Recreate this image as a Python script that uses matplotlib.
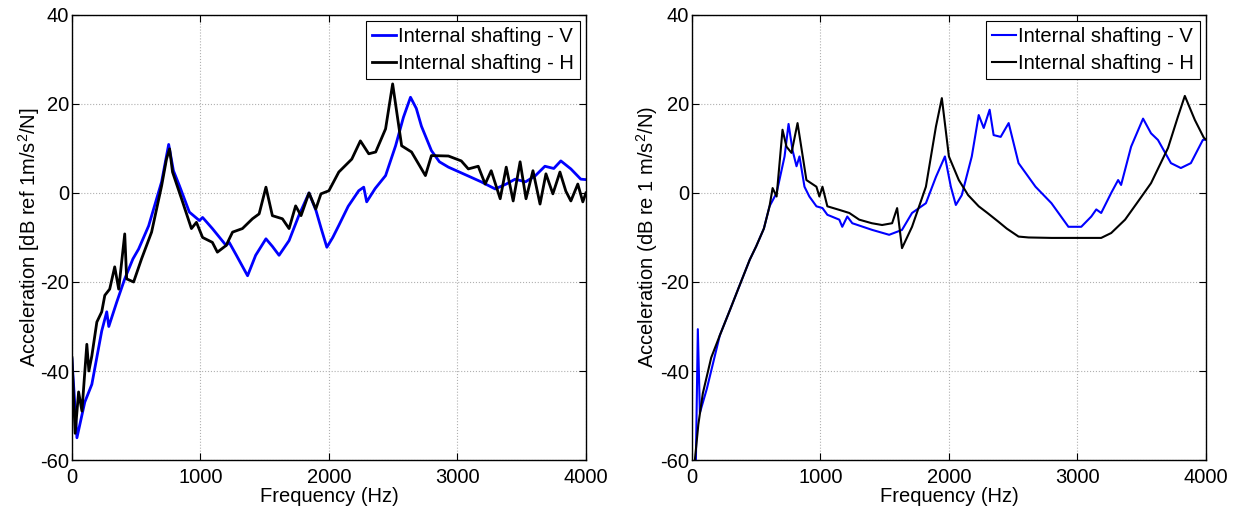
import matplotlib.pyplot as plt

plt.rcParams['font.family'] = ['Liberation Sans', 'DejaVu Sans']
plt.rcParams['mathtext.fontset'] = 'custom'
plt.rcParams['mathtext.rm'] = 'Liberation Sans'
plt.rcParams['axes.unicode_minus'] = False

# left panel: measured
left_v_f = [0, 39, 100, 155, 232, 271, 287, 349, 411, 475, 519, 597, 643, 698, 753,
            790, 837, 914, 992, 1017, 1093, 1200, 1224, 1280, 1367, 1430, 1510, 1560, 1612,
            1690, 1767, 1845, 1900, 1940, 1984, 2030, 2077, 2150, 2232, 2271, 2294, 2360,
            2441, 2519, 2580, 2635, 2680, 2720, 2798, 2860, 2930, 3085, 3185, 3294,
            3380, 3449, 3530, 3604, 3681, 3750, 3805, 3883, 3960, 4000]
left_v_db = [-37.3, -55, -47, -43, -31, -26.7, -30, -24.5, -19.3, -14.8, -12.6, -7.4, -2.9, 2.5, 10.9,
             5, 1.6, -4.3, -6.2, -5.5, -8, -11.8, -11.1, -14, -18.6, -14, -10.3, -12, -14,
             -10.7, -5, 0, -4, -8, -12.2, -10, -7.3, -3, 0.5, 1.3, -2, 1,
             3.9, 10.6, 17, 21.5, 19, 15, 9.5, 7, 5.8, 3.8, 2.5, 0.9,
             2, 3.1, 2.5, 3.8, 6, 5.5, 7.2, 5.4, 3.1, 3]

left_h_f = [0, 25, 52, 78, 116, 132, 155, 194, 232, 256, 294, 333, 364, 411, 426, 480, 542,
            620, 698, 736, 760, 783, 853, 930, 969, 1017, 1093, 1132, 1200, 1250, 1327, 1405,
            1457, 1510, 1560, 1638, 1690, 1741, 1783, 1845, 1898, 1938, 2000, 2077, 2178,
            2245, 2310, 2364, 2441, 2496, 2566, 2643, 2751, 2798, 2930, 3030, 3085, 3162,
            3216, 3263, 3333, 3380, 3434, 3488, 3534, 3588, 3643, 3689, 3743, 3798, 3844,
            3883, 3937, 3976, 4000]
left_h_db = [-37, -54, -44.7, -49, -34, -40, -36.6, -29, -26.7, -23, -21.6, -16.6, -21.6, -9.2, -19.3, -20, -14.8,
             -8.8, 1.6, 7.6, 9.9, 4.7, -1.3, -8, -6.6, -10, -11.1, -13.3, -11.8, -8.8, -8, -5.8,
             -4.7, 1.3, -5.1, -5.8, -8, -2.9, -5.1, 0, -3.6, -0.2, 0.5, 4.7, 7.6,
             11.7, 8.8, 9.2, 14.4, 24.5, 10.6, 9.2, 3.9, 8.4, 8.3, 7.2, 5.4, 6,
             2, 5, -1.3, 5.8, -1.8, 7, -1.3, 5, -2.5, 4.3, -0.2, 4.7, 0.4,
             -1.8, 2, -2, 0]

# right panel: model
right_v_f = [31, 46, 62, 116, 217, 300, 372, 450, 500, 560, 604, 659, 721, 752, 783, 814, 837, 876, 914,
             969, 1016, 1054, 1147, 1170, 1209, 1248, 1403, 1535, 1635, 1713, 1821, 1899,
             1969, 2015, 2054, 2100, 2178, 2232, 2271, 2317, 2348, 2403, 2465, 2542, 2674,
             2798, 2930, 3030, 3108, 3147, 3185, 3263, 3317, 3340, 3418, 3511, 3573, 3627,
             3728, 3805, 3883, 3976, 4000]
right_v_db = [-60, -30.6, -49.4, -44, -32, -26, -20.7, -15, -12, -8, -3, 0, 8.2, 15.5, 9.6, 6, 8.2, 1.4, -0.8,
              -3, -3.4, -4.9, -6, -7.6, -5.3, -6.8, -8.3, -9.4, -8.3, -4.5, -2.3, 3.6,
              8.2, 1.4, -2.7, -0.5, 8.2, 17.5, 14.6, 18.7, 13, 12.6, 15.7, 6.7, 1.4,
              -2.3, -7.6, -7.6, -5.3, -3.7, -4.5, 0, 2.9, 1.8, 10.4, 16.7, 13.4, 11.9,
              6.7, 5.6, 6.7, 11.9, 12]

right_h_f = [23, 50, 85, 150, 217, 300, 372, 450, 500, 560, 604, 628, 659, 705, 736, 775, 822, 891,
             969, 992, 1016, 1054, 1147, 1225, 1302, 1400, 1480, 1558, 1597, 1635, 1713, 1821,
             1899, 1945, 2000, 2077, 2150, 2232, 2300, 2387, 2450, 2542, 2620, 2798, 3185, 3263,
             3371, 3470, 3573, 3705, 3782, 3836, 3914, 3984, 4000]
right_h_db = [-60, -52, -45, -37, -32, -26, -20.7, -15, -12, -8, -3, 1.1, -0.8, 14.2, 10.4, 9, 15.7, 2.9,
              1.4, -0.8, 1.4, -3, -3.8, -4.5, -6, -6.8, -7.2, -6.8, -3.4, -12.4, -7.6, 1.4,
              14.9, 21.3, 8.2, 2.9, -0.5, -3, -4.5, -6.5, -8, -9.8, -10, -10.1, -10.1, -9,
              -6, -2, 2.2, 10.1, 17.1, 21.8, 16.4, 12.4, 12]

labels = ['Internal shafting - V', 'Internal shafting - H']

fig = plt.figure(figsize=(12.4, 5.14), dpi=100)
ax1 = fig.add_axes([0.058, 0.105, 0.4145, 0.866])
ax2 = fig.add_axes([0.558, 0.105, 0.4145, 0.866])

ax1.plot(left_v_f, left_v_db, color='blue', lw=2.0, label=labels[0])
ax1.plot(left_h_f, left_h_db, color='black', lw=2.0, label=labels[1])
ax2.plot(right_v_f, right_v_db, color='blue', lw=1.5, label=labels[0])
ax2.plot(right_h_f, right_h_db, color='black', lw=1.5, label=labels[1])

ax1.set_ylabel('Acceleration [dB ref 1m/s$^2$/N]', fontsize=14.5, labelpad=-1)
ax2.set_ylabel('Acceleration (dB re 1 m/s$^2$/N)', fontsize=14.5, labelpad=0)

for ax in (ax1, ax2):
    ax.set_xlim(0, 4000)
    ax.set_ylim(-60, 40)
    ax.set_xticks([0, 1000, 2000, 3000, 4000])
    ax.set_yticks([-60, -40, -20, 0, 20, 40])
    ax.grid(True, linestyle=':', color='#b0b0b0', lw=0.8)
    ax.tick_params(direction='in', top=True, right=True, labelsize=14.5, length=5)
    ax.tick_params(axis='x', pad=6)
    ax.tick_params(axis='y', pad=2)
    ax.set_xlabel('Frequency (Hz)', fontsize=14.5, labelpad=0)
    for s in ax.spines.values():
        s.set_linewidth(1.0)
    leg = ax.legend(loc='upper right', fontsize=14.5, handlelength=1.2, handletextpad=0.1,
                    borderpad=0.3, labelspacing=0.4, fancybox=False, framealpha=1,
                    borderaxespad=0.3)
    leg.get_frame().set_edgecolor('black')
    leg.get_frame().set_linewidth(0.8)

fig.savefig('out.png', dpi=100)
